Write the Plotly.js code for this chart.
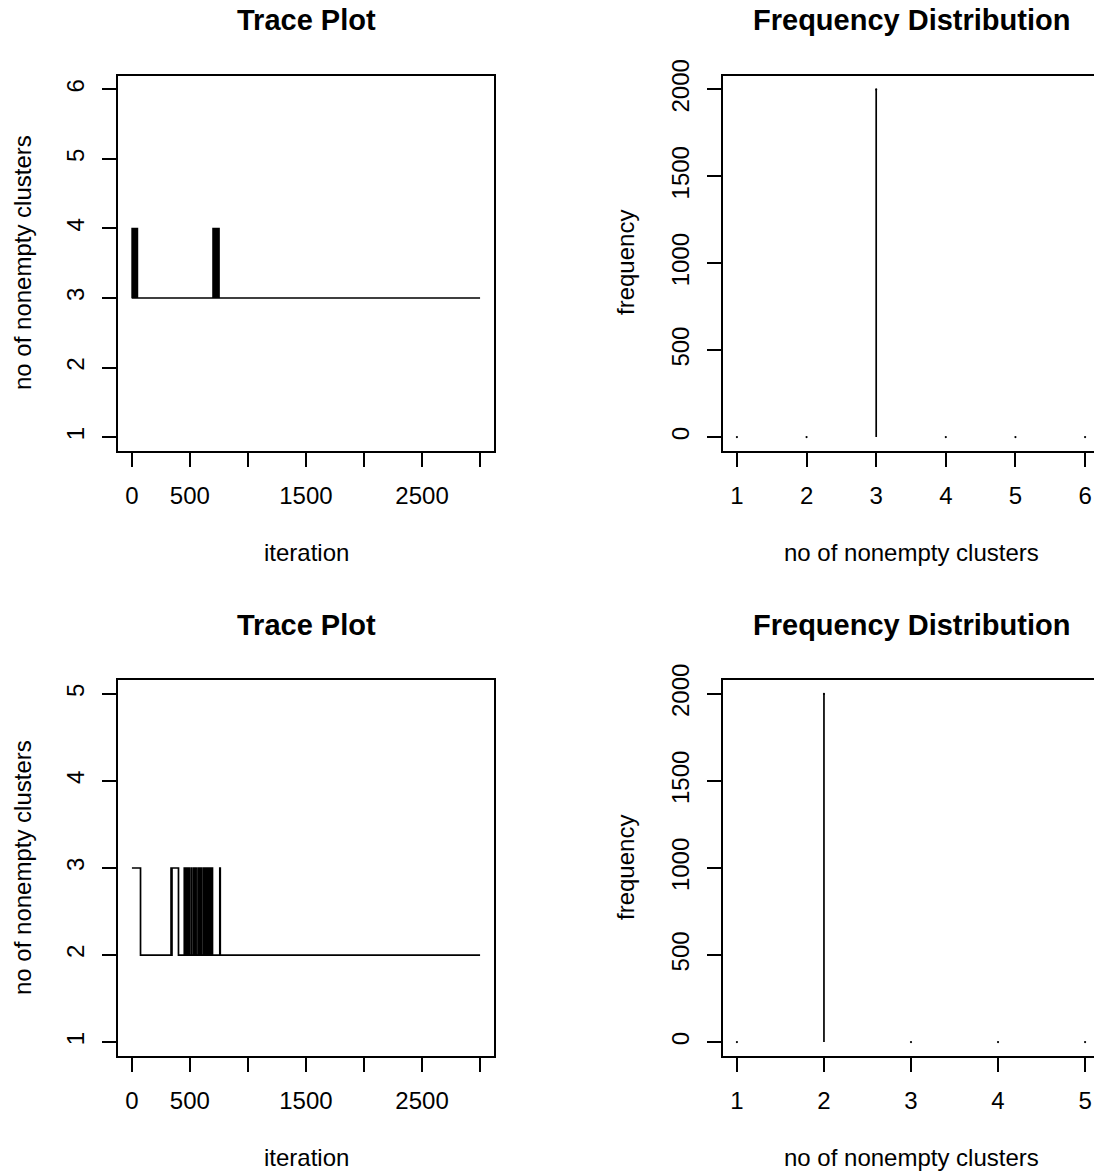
<!DOCTYPE html>
<html>
<head>
<meta charset="utf-8">
<script src="https://cdn.plot.ly/plotly-3.0.1.min.js"></script>
<style>
html,body{margin:0;padding:0;overflow:hidden;background:#ffffff;}
#chart{width:1100px;height:1173px;}
</style>
</head>
<body>
<div id="chart"></div>
<script>
// ---------------- data ----------------
// Trace plot 1: iterations where the number of nonempty clusters changes (step function)
const trace1Iter = [1, 3, 6, 9, 12, 15, 18, 21, 24, 27, 30, 33, 36, 39, 42, 45, 48,
                    700, 703, 706, 709, 712, 715, 718, 721, 724, 727, 730, 733, 736, 739, 742, 745, 748, 751,
                    3000];
const trace1K    = [3, 4, 3, 4, 3, 4, 3, 4, 3, 4, 3, 4, 3, 4, 3, 4, 3,
                    4, 3, 4, 3, 4, 3, 4, 3, 4, 3, 4, 3, 4, 3, 4, 3, 4, 3,
                    3];
// Trace plot 2: change points (up to 3, back down to 2)
const trace2Iter = [1, 75,
                    338, 342, 346, 402,
                    452, 456, 460, 464, 468, 472, 476, 480, 484, 488, 492, 496,
                    512, 518,
                    534, 538, 542, 546, 550, 554,
                    570, 575, 580, 585, 590, 595, 600, 604,
                    620, 623, 626, 629, 632, 635, 638, 641, 644, 647, 650, 653, 656, 659,
                    662, 665, 668, 671, 674, 677, 680, 683, 686, 689, 692, 695,
                    758, 762,
                    3000];
const trace2K    = [3, 2,
                    3, 2, 3, 2,
                    3, 2, 3, 2, 3, 2, 3, 2, 3, 2, 3, 2,
                    3, 2,
                    3, 2, 3, 2, 3, 2,
                    3, 2, 3, 2, 3, 2, 3, 2,
                    3, 2, 3, 2, 3, 2, 3, 2, 3, 2, 3, 2, 3, 2,
                    3, 2, 3, 2, 3, 2, 3, 2, 3, 2, 3, 2,
                    3, 2,
                    2];
// Frequency distributions
const freq1Clusters = [1, 2, 3, 4, 5, 6];
const freq1Counts   = [0, 0, 2000, 0, 0, 0];
const freq2Clusters = [1, 2, 3, 4, 5];
const freq2Counts   = [0, 2000, 0, 0, 0];
// Tick labels
const iterTickVals  = [0, 500, 1000, 1500, 2000, 2500, 3000];
const iterTickText  = ['0', '500', '', '1500', '', '2500', ''];
const freqTickVals  = [0, 500, 1000, 1500, 2000];
const trace1YTicks  = [1, 2, 3, 4, 5, 6];
const trace2YTicks  = [1, 2, 3, 4, 5];

// ---------------- helpers ----------------
const W = 1100, H = 1173;
const FONT = 'Liberation Sans, Arial, Helvetica, sans-serif';
const px = v => v / W;
const py = v => 1 - v / H;
function padRange(lo, hi) { const d = (hi - lo) * 0.04; return [lo - d, hi + d]; }

function spikes(xs, ys) {
  const X = [], Y = [];
  xs.forEach((x, i) => { X.push(x, x, null); Y.push(0, ys[i], null); });
  return {X, Y};
}

const s1 = spikes(freq1Clusters, freq1Counts);
const s2 = spikes(freq2Clusters, freq2Counts);

const lineStyle = {color: '#000000', width: 1.7};

const data = [
  {x: trace1Iter, y: trace1K, type: 'scatter', mode: 'lines', line: Object.assign({shape: 'hv'}, lineStyle), xaxis: 'x', yaxis: 'y', hoverinfo: 'skip'},
  {x: s1.X, y: s1.Y, type: 'scatter', mode: 'lines', line: lineStyle, xaxis: 'x2', yaxis: 'y2', hoverinfo: 'skip', connectgaps: false},
  {x: freq1Clusters, y: freq1Counts, type: 'scatter', mode: 'markers', marker: {color: '#000', size: 2.2}, xaxis: 'x2', yaxis: 'y2', hoverinfo: 'skip'},
  {x: trace2Iter, y: trace2K, type: 'scatter', mode: 'lines', line: Object.assign({shape: 'hv'}, lineStyle), xaxis: 'x3', yaxis: 'y3', hoverinfo: 'skip'},
  {x: s2.X, y: s2.Y, type: 'scatter', mode: 'lines', line: lineStyle, xaxis: 'x4', yaxis: 'y4', hoverinfo: 'skip', connectgaps: false},
  {x: freq2Clusters, y: freq2Counts, type: 'scatter', mode: 'markers', marker: {color: '#000', size: 2.2}, xaxis: 'x4', yaxis: 'y4', hoverinfo: 'skip'}
];

function axisBase(extra) {
  return Object.assign({
    showline: true, linecolor: '#000', linewidth: 2, mirror: true,
    ticks: 'outside', ticklen: 14, tickwidth: 2, tickcolor: '#000',
    showgrid: false, zeroline: false, fixedrange: true,
    ticklabelstandoff: 8,
    tickfont: {family: FONT, size: 24, color: '#000'}
  }, extra);
}

const topY = [py(451), py(75.5)];
const botY = [py(1056), py(680)];
const leftX = [px(118), px(494)];
const rightX = [px(723), px(1099)];

const layout = {
  width: W, height: H,
  margin: {l: 0, r: 0, t: 0, b: 0},
  paper_bgcolor: '#fff', plot_bgcolor: '#fff',
  showlegend: false,
  font: {family: FONT, color: '#000'},
  xaxis:  axisBase({domain: leftX, anchor: 'y', range: padRange(1, 3000), tickmode: 'array', tickvals: iterTickVals, ticktext: iterTickText}),
  yaxis:  axisBase({domain: topY, anchor: 'x', range: padRange(1, 6), tickmode: 'array', tickvals: trace1YTicks, tickangle: -90}),
  xaxis2: axisBase({domain: rightX, anchor: 'y2', range: padRange(1, 6), tickmode: 'array', tickvals: freq1Clusters}),
  yaxis2: axisBase({domain: topY, anchor: 'x2', range: padRange(0, 2000), tickmode: 'array', tickvals: freqTickVals, tickangle: -90}),
  xaxis3: axisBase({domain: leftX, anchor: 'y3', range: padRange(1, 3000), tickmode: 'array', tickvals: iterTickVals, ticktext: iterTickText}),
  yaxis3: axisBase({domain: botY, anchor: 'x3', range: padRange(1, 5), tickmode: 'array', tickvals: trace2YTicks, tickangle: -90}),
  xaxis4: axisBase({domain: rightX, anchor: 'y4', range: padRange(1, 5), tickmode: 'array', tickvals: freq2Clusters}),
  yaxis4: axisBase({domain: botY, anchor: 'x4', range: padRange(0, 2000), tickmode: 'array', tickvals: freqTickVals, tickangle: -90}),
  annotations: []
};

function ann(text, x, y, size, angle, bold) {
  layout.annotations.push({
    text: bold ? '<b>' + text + '</b>' : text,
    xref: 'paper', yref: 'paper', x: px(x), y: py(y),
    xanchor: 'center', yanchor: 'middle', showarrow: false,
    textangle: angle || 0,
    font: {family: FONT, size: size, color: '#000'}
  });
}
// panel titles
ann('Trace Plot', 306, 20, 29, 0, true);
ann('Frequency Distribution', 911, 20, 29, 0, true);
ann('Trace Plot', 306, 625, 29, 0, true);
ann('Frequency Distribution', 911, 625, 29, 0, true);
// x axis titles
ann('iteration', 306, 552, 24);
ann('no of nonempty clusters', 911, 552, 24);
ann('iteration', 306, 1157, 24);
ann('no of nonempty clusters', 911, 1157, 24);
// y axis titles
ann('no of nonempty clusters', 22, 263, 24, -90);
ann('frequency', 625, 263, 24, -90);
ann('no of nonempty clusters', 22, 868, 24, -90);
ann('frequency', 625, 868, 24, -90);

Plotly.newPlot('chart', data, layout, {displayModeBar: false, staticPlot: true});
</script>
</body>
</html>
